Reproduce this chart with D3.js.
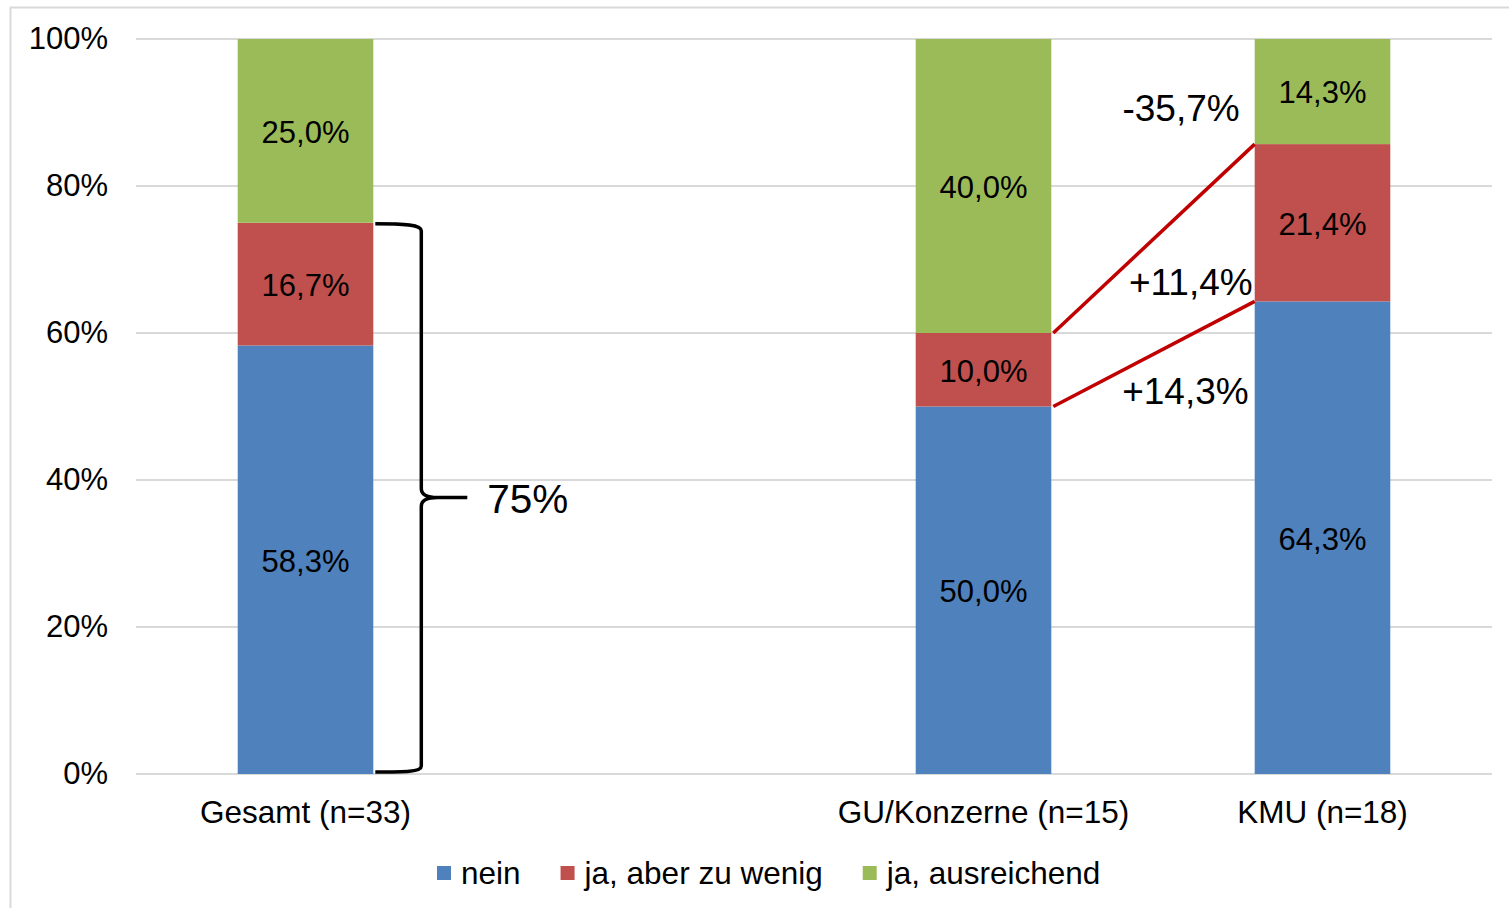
<!DOCTYPE html>
<html lang="de">
<head>
<meta charset="UTF-8">
<title>Chart</title>
<script src="https://d3js.org/d3.v7.min.js"></script>
<style>
  body { margin: 0; background: #fff; }
  text { font-family: "Liberation Sans", Arial, sans-serif; fill: #000; }
  .y-axis text { font-size: 31px; }
  .x-label { font-size: 31.5px; }
  .val { font-size: 31px; }
  .legend text { font-size: 31.5px; }
</style>
</head>
<body>
<svg width="1509" height="908"></svg>
<script>
// categories (the empty one is the gap between Gesamt and the split)
var categories = ["Gesamt (n=33)", "", "GU/Konzerne (n=15)", "KMU (n=18)"];
var seriesNames = ["nein", "ja, aber zu wenig", "ja, ausreichend"];
var nein       = [58.3, null, 50.0, 64.3];
var zuWenig    = [16.7, null, 10.0, 21.4];
var ausreichend = [25.0, null, 40.0, 14.3];
var yTicks = [0, 20, 40, 60, 80, 100];
var colors = ["#4F81BD", "#C0504D", "#9BBB59"];

// change annotations between GU and KMU
var diffLabels = ["-35,7%", "+11,4%", "+14,3%"];
var braceLabel = "75%";

var margin = {top: 39, right: 17, bottom: 134, left: 136};
var width = 1509 - margin.left - margin.right;
var height = 908 - margin.top - margin.bottom;

const svg = d3.select('svg');

// outer chart border
svg.append('rect')
  .attr('x', 10.5).attr('y', 7.5)
  .attr('width', 1530).attr('height', 930)
  .attr('fill', 'none')
  .attr('stroke', '#d9d9d9')
  .attr('stroke-width', 2);

const g = svg.append('g')
  .attr('transform', `translate(${margin.left},${margin.top})`);

const x = d3.scaleBand()
  .domain(categories.map((c, i) => i))
  .range([0, width])
  .paddingInner(0.6)
  .paddingOuter(0.3);

const y = d3.scaleLinear()
  .domain([0, 100])
  .range([height, 0]);

// gridlines
g.append('g')
  .selectAll('line')
  .data(yTicks)
  .enter()
  .append('line')
  .attr('x1', 0).attr('x2', width)
  .attr('y1', d => y(d)).attr('y2', d => y(d))
  .attr('stroke', '#d9d9d9')
  .attr('stroke-width', 2);

// y axis labels
const yAxis = g.append('g')
  .attr('class', 'y-axis')
  .call(d3.axisLeft(y).tickValues(yTicks).tickFormat(d => d + '%').tickSize(0).tickPadding(28));
yAxis.select('.domain').remove();
yAxis.selectAll('text').attr('fill', '#000');

// stacked data
var rows = categories.map((c, i) => ({idx: i, nein: nein[i], zuWenig: zuWenig[i], ausreichend: ausreichend[i]}))
  .filter(d => d.nein !== null);
var keys = ["nein", "zuWenig", "ausreichend"];
var stacked = d3.stack().keys(keys)(rows);

const fmt = v => d3.format('.1f')(v).replace('.', ',') + '%';

const layers = g.selectAll('.layer')
  .data(stacked)
  .enter()
  .append('g')
  .attr('class', 'layer')
  .attr('fill', (d, i) => colors[i]);

layers.selectAll('rect')
  .data(d => d)
  .enter()
  .append('rect')
  .attr('x', d => x(d.data.idx))
  .attr('y', d => y(d[1]))
  .attr('width', x.bandwidth())
  .attr('height', d => y(d[0]) - y(d[1]));

layers.selectAll('text')
  .data(d => d)
  .enter()
  .append('text')
  .attr('class', 'val')
  .attr('x', d => x(d.data.idx) + x.bandwidth() / 2)
  .attr('y', d => (y(d[0]) + y(d[1])) / 2 + 1)
  .attr('dy', '0.35em')
  .attr('text-anchor', 'middle')
  .text(d => fmt(d[1] - d[0]));

// category labels
g.append('g')
  .selectAll('.x-label')
  .data(categories.map((c, i) => ({c: c, i: i})).filter(d => d.c))
  .enter()
  .append('text')
  .attr('class', 'x-label')
  .attr('x', d => x(d.i) + x.bandwidth() / 2)
  .attr('y', height + 38)
  .attr('dy', '0.35em')
  .attr('text-anchor', 'middle')
  .text(d => d.c);

// brace over Gesamt 0..75%
var b0 = rows[0];
var braceTop = y(b0.nein + b0.zuWenig);
var braceBot = y(0) - 2;
var bx0 = x(0) + x.bandwidth() + 2;
var bx1 = bx0 + 46;
var mid = (braceTop + braceBot) / 2;
var tipX = bx1 + 46;
var bracePath = d3.path();
bracePath.moveTo(bx0, braceTop + 1);
bracePath.bezierCurveTo(bx0 + 30, braceTop + 1, bx1, braceTop + 2, bx1, braceTop + 8);
bracePath.lineTo(bx1, mid - 9);
bracePath.bezierCurveTo(bx1, mid - 2, bx1 + 8, mid, tipX - 30, mid);
bracePath.lineTo(tipX, mid);
bracePath.moveTo(tipX - 30, mid);
bracePath.bezierCurveTo(bx1 + 8, mid, bx1, mid + 2, bx1, mid + 9);
bracePath.lineTo(bx1, braceBot - 6);
bracePath.bezierCurveTo(bx1, braceBot, bx0 + 30, braceBot, bx0, braceBot);
g.append('path')
  .attr('d', bracePath.toString())
  .attr('fill', 'none')
  .attr('stroke', '#000')
  .attr('stroke-width', 3.5);
g.append('text')
  .attr('x', tipX + 20)
  .attr('y', mid + 1)
  .attr('dy', '0.35em')
  .style('font-size', '40.5px')
  .text(braceLabel);

// red connector lines GU -> KMU
var gu = rows[1], kmu = rows[2];
var guRight = x(gu.idx) + x.bandwidth();
var kmuLeft = x(kmu.idx);
var connectors = [
  [gu.nein + gu.zuWenig, kmu.nein + kmu.zuWenig],
  [gu.nein, kmu.nein]
];
g.selectAll('.conn')
  .data(connectors)
  .enter()
  .append('line')
  .attr('class', 'conn')
  .attr('x1', guRight + 2).attr('y1', d => y(d[0]))
  .attr('x2', kmuLeft).attr('y2', d => y(d[1]))
  .attr('stroke', '#C00000')
  .attr('stroke-width', 3.5);

// annotation text, placed in the gap left of KMU
var annY = [y(90.6), y(67.0), y(52.1)];
var annRight = [kmuLeft - 15, kmuLeft - 2, kmuLeft - 6];
g.selectAll('.ann')
  .data(diffLabels)
  .enter()
  .append('text')
  .attr('class', 'ann')
  .attr('x', (d, i) => annRight[i])
  .attr('y', (d, i) => annY[i])
  .attr('text-anchor', 'end')
  .attr('dy', '0.35em')
  .style('font-size', '37px')
  .text(d => d);

// legend
const legend = svg.append('g')
  .attr('class', 'legend')
  .attr('transform', 'translate(437, 873)');
var lx = 0;
seriesNames.forEach((name, i) => {
  legend.append('rect')
    .attr('x', lx).attr('y', -7)
    .attr('width', 14).attr('height', 14)
    .attr('fill', colors[i]);
  var t = legend.append('text')
    .attr('x', lx + 24)
    .attr('y', 0)
    .attr('dy', '0.35em')
    .text(name);
  lx += 24 + t.node().getComputedTextLength() + 40;
});
</script>
</body>
</html>
